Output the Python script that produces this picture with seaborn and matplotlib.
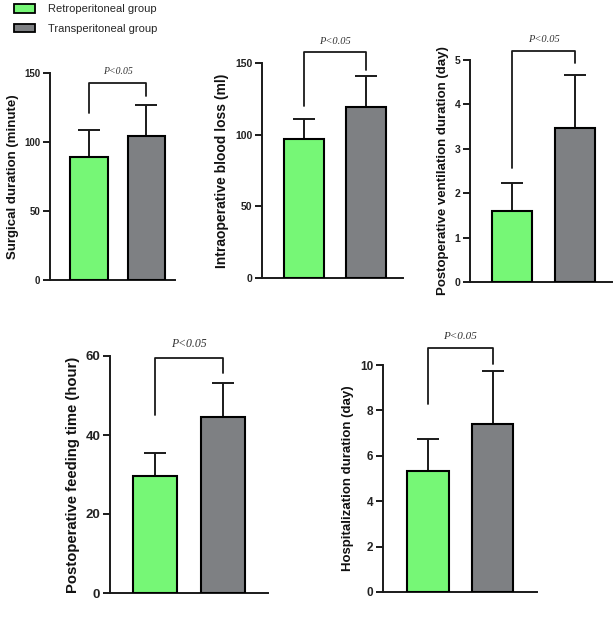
import matplotlib
matplotlib.use("Agg")
import matplotlib.pyplot as plt
import seaborn as sns
import pandas as pd
from matplotlib.patches import Patch

sns.set_theme(style="white")
plt.rcParams['font.family'] = ['Liberation Sans', 'DejaVu Sans']

groups = ["Retroperitoneal group", "Transperitoneal group"]
colors = ["#76F776", "#7E8083"]

ylabels = ["Surgical duration (minute)",
           "Intraoperative blood loss (ml)",
           "Postoperative ventilation duration (day)",
           "Postoperative feeding time (hour)",
           "Hospitalization duration (day)"]

surgical_mean = [89, 104]
surgical_sd = [20, 23]
blood_mean = [97, 119]
blood_sd = [14, 22]
vent_mean = [1.6, 3.47]
vent_sd = [0.62, 1.2]
feed_mean = [29.5, 44.5]
feed_sd = [6, 8.7]
hosp_mean = [5.35, 7.4]
hosp_sd = [1.4, 2.35]

means = [surgical_mean, blood_mean, vent_mean, feed_mean, hosp_mean]
sds = [surgical_sd, blood_sd, vent_sd, feed_sd, hosp_sd]

yticks = [[0, 50, 100, 150], [0, 50, 100, 150], [0, 1, 2, 3, 4, 5],
          [0, 20, 40, 60], [0, 2, 4, 6, 8, 10]]

# bracket: top, left leg end, right leg end
bracket_top = [143, 157.7, 5.2, 59.6, 10.75]
bracket_left = [121, 120, 2.57, 45, 8.3]
bracket_right = [133, 145, 4.93, 55.7, 10.05]
p_text = "P<0.05"

W, H = 614, 625
# (left px, right px, y0 px, ytop px, xlim)
layout = [
    (50, 175, 280, 73, (-0.678, 1.496)),
    (262, 403, 278, 63, (-0.69, 1.60)),
    (470, 612, 282, 60, (-0.667, 1.587)),
    (110, 268, 593, 356, (-0.66, 1.66)),
    (383, 537, 592, 365, (-0.70, 1.69)),
]
label_sizes = [9.5, 10, 9.5, 10.7, 9.5]
tick_sizes = [7, 7.5, 7.5, 9.5, 8.5]
p_sizes = [7, 7.5, 7.5, 8.5, 8]

fig = plt.figure(figsize=(W / 100, H / 100), dpi=100)

for i, (L, R, yb, yt, xl) in enumerate(layout):
    ax = fig.add_axes([L / W, (H - yb) / H, (R - L) / W, (yb - yt) / H])
    df = pd.DataFrame({"group": groups, "value": means[i]})
    sns.barplot(data=df, x="group", y="value", hue="group", palette=colors,
                saturation=1, width=0.65, edgecolor="black", linewidth=1.5,
                errorbar=None, legend=False, ax=ax, zorder=3)
    ax.errorbar(x=[0, 1], y=means[i], yerr=[[0, 0], sds[i]], fmt="none",
                ecolor="#1a1a1a", elinewidth=1.4, capsize=8, capthick=1.4, zorder=2)
    ax.set_xlim(*xl)
    ax.set_ylim(0, yticks[i][-1])
    ax.set_yticks(yticks[i])
    ax.set_yticklabels([str(t) for t in yticks[i]], fontsize=tick_sizes[i],
                       fontweight="bold", color="#222222")
    ax.set_xticks([])
    ax.set_xlabel("")
    ax.set_ylabel(ylabels[i], fontsize=label_sizes[i], fontweight="bold",
                  color="#111111", labelpad=4)
    for s in ["top", "right"]:
        ax.spines[s].set_visible(False)
    for s in ["left", "bottom"]:
        ax.spines[s].set_color("#1a1a1a")
        ax.spines[s].set_linewidth(1.4)
    ax.tick_params(axis="y", direction="out", length=5, width=1.4,
                   color="#1a1a1a", pad=2, left=True)
    # significance bracket
    ax.plot([0, 0, 1, 1], [bracket_left[i], bracket_top[i], bracket_top[i], bracket_right[i]],
            color="#1a1a1a", lw=1.3, clip_on=False, zorder=4)
    ytxt = bracket_top[i] + yticks[i][-1] * 0.03
    ax.text(0.5, ytxt, p_text, ha="center", va="bottom", fontsize=p_sizes[i],
            family=["Liberation Serif", "DejaVu Serif"], style="italic",
            color="#333333", clip_on=False)

handles = [Patch(facecolor=colors[0], edgecolor="black", linewidth=1.3),
           Patch(facecolor=colors[1], edgecolor="black", linewidth=1.3)]
fig.legend(handles, groups, loc="upper left", bbox_to_anchor=(14 / W, 1 - 4 / H),
           frameon=False, fontsize=8, handlelength=1.85, handleheight=0.8,
           handletextpad=1.25, labelspacing=0.85, borderpad=0, borderaxespad=0)

fig.savefig("out.png", dpi=100)
